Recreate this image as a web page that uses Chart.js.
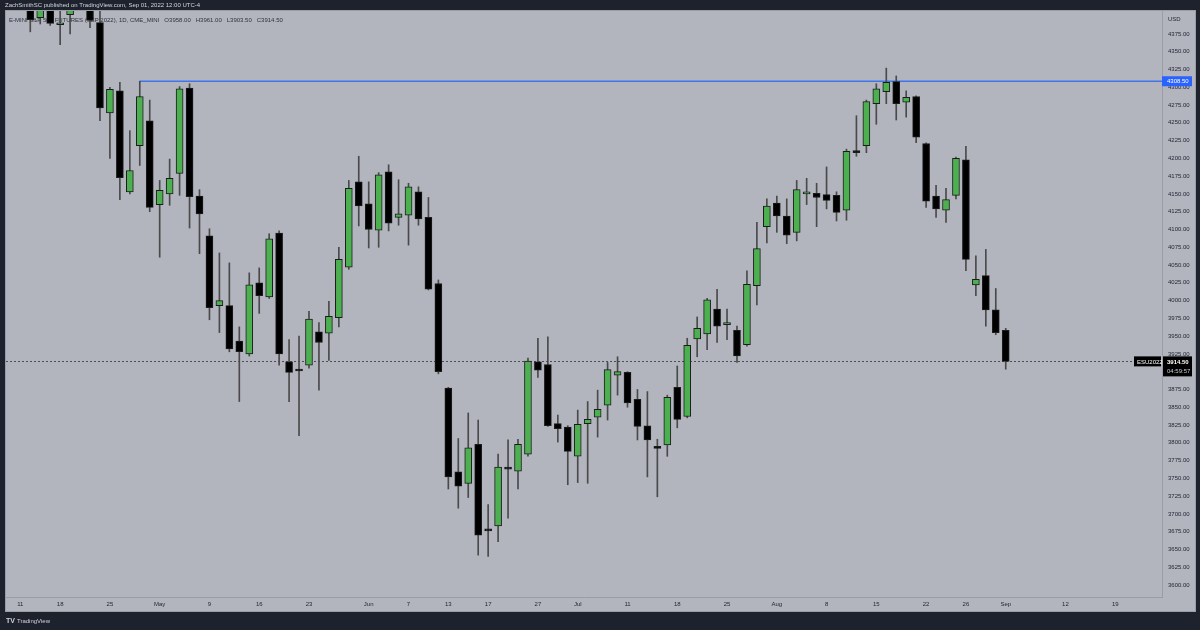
<!DOCTYPE html>
<html>
<head>
<meta charset="utf-8">
<script src="https://cdn.jsdelivr.net/npm/chart.js@4.4.1/dist/chart.umd.min.js"></script>
<style>
  html, body { margin: 0; padding: 0; background: #1e222d; }
  canvas { display: block; }
</style>
</head>
<body>
<canvas id="chart" width="1200" height="630"></canvas>
<script>
// ===== ESU2022 daily candles =====
const days = [
  'Apr 11','Apr 12','Apr 13','Apr 14',
  'Apr 18','Apr 19','Apr 20','Apr 21','Apr 22',
  'Apr 25','Apr 26','Apr 27','Apr 28','Apr 29',
  'May 2','May 3','May 4','May 5','May 6',
  'May 9','May 10','May 11','May 12','May 13',
  'May 16','May 17','May 18','May 19','May 20',
  'May 23','May 24','May 25','May 26','May 27',
  'May 31','Jun 1','Jun 2','Jun 3',
  'Jun 6','Jun 7','Jun 8','Jun 9','Jun 10',
  'Jun 13','Jun 14','Jun 15','Jun 16','Jun 17',
  'Jun 21','Jun 22','Jun 23','Jun 24',
  'Jun 27','Jun 28','Jun 29','Jun 30','Jul 1',
  'Jul 5','Jul 6','Jul 7','Jul 8',
  'Jul 11','Jul 12','Jul 13','Jul 14','Jul 15',
  'Jul 18','Jul 19','Jul 20','Jul 21','Jul 22',
  'Jul 25','Jul 26','Jul 27','Jul 28','Jul 29',
  'Aug 1','Aug 2','Aug 3','Aug 4','Aug 5',
  'Aug 8','Aug 9','Aug 10','Aug 11','Aug 12',
  'Aug 15','Aug 16','Aug 17','Aug 18','Aug 19',
  'Aug 22','Aug 23','Aug 24','Aug 25','Aug 26',
  'Aug 29','Aug 30','Aug 31','Sep 1',
  // empty future space on the right
  'Sep 2','Sep 6','Sep 7','Sep 8','Sep 9',
  'Sep 12','Sep 13','Sep 14','Sep 15','Sep 16',
  'Sep 19','Sep 20'
];

const open = [
  4480, 4420, 4398, 4440, 4388, 4402, 4458, 4460, 4391,
  4264, 4295, 4153, 4218, 4253,
  4135, 4150, 4179, 4299, 4147,
  4091, 3993, 3993, 3943, 3925,
  4025, 4005, 4095, 3914, 3903,
  3909, 3956, 3954, 3976, 4047,
  4167, 4136, 4099, 4181,
  4117, 4120, 4153, 4117, 4024,
  3877, 3759, 3743, 3798, 3679,
  3683, 3765, 3760, 3784,
  3914, 3910, 3827, 3822, 3781,
  3827, 3836, 3853, 3895,
  3899, 3861, 3824, 3795, 3797,
  3878, 3837, 3946, 3953, 3988,
  3966, 3958, 3938, 4021, 4104,
  4137, 4119, 4096, 4150, 4151,
  4149, 4148, 4127, 4210, 4218,
  4277, 4294, 4308, 4279, 4287,
  4221, 4147, 4127, 4148, 4198,
  4022, 4035, 3987, 3958
];
const high = [
  4488, 4470, 4452, 4460, 4420, 4465, 4490, 4500, 4410,
  4300, 4307, 4239, 4308.5, 4282,
  4169, 4199, 4301, 4305, 4156,
  4101, 4067, 4053, 3963, 4039,
  4046, 4094, 4098, 3945, 3950,
  3985, 3969, 3999, 4075, 4169,
  4203, 4167, 4180, 4191,
  4170, 4165, 4160, 4145, 4029,
  3878, 3806, 3842, 3832, 3713,
  3784, 3804, 3805, 3919,
  3947, 3949, 3839, 3824, 3846,
  3858, 3874, 3913, 3921,
  3900, 3875, 3872, 3805, 3867,
  3908, 3947, 3977, 4003, 4016,
  3988, 3964, 4042, 4110, 4143,
  4147, 4143, 4169, 4172, 4165,
  4188, 4153, 4213, 4260, 4282,
  4305, 4327, 4316, 4295, 4288,
  4222, 4162, 4158, 4202, 4217,
  4063, 4072, 4017, 3961
];
const low = [
  4410, 4378, 4389, 4387, 4360, 4375, 4440, 4384, 4253,
  4200, 4142, 4150, 4190, 4125,
  4061, 4134, 4148, 4102, 4066,
  3973, 3955, 3928, 3858, 3922,
  3982, 4003, 3909, 3858, 3810,
  3905, 3874, 3916, 3963, 4044,
  4105, 4074, 4075, 4098,
  4106, 4078, 4106, 4015, 3897,
  3735, 3708, 3723, 3642, 3640,
  3661, 3694, 3735, 3781,
  3892, 3823, 3801, 3741, 3744,
  3743, 3808, 3832, 3867,
  3850, 3804, 3752, 3724, 3781,
  3821, 3835, 3921, 3931, 3941,
  3945, 3913, 3936, 3994, 4081,
  4096, 4080, 4084, 4135, 4104,
  4129, 4112, 4113, 4203, 4208,
  4248, 4277, 4254, 4258, 4222,
  4131, 4117, 4110, 4143, 4042,
  4007, 3964, 3952, 3903.5
];
const close = [
  4413, 4395, 4440, 4390, 4390, 4458, 4455, 4394, 4271,
  4297, 4173, 4183, 4287, 4131,
  4155, 4172, 4298, 4146, 4122,
  3990, 4000, 3932, 3928, 4022,
  4007, 4087, 3925, 3899, 3901,
  3974, 3941, 3978, 4058, 4158,
  4133, 4100, 4177, 4109,
  4122, 4160, 4115, 4016, 3900,
  3752, 3739, 3793, 3670, 3676,
  3766, 3763, 3798, 3915,
  3902, 3824, 3820, 3788, 3826,
  3833, 3847, 3903, 3900,
  3856, 3823, 3804, 3792, 3864,
  3833, 3937, 3961, 4001, 3964,
  3969, 3922, 4023, 4073, 4133,
  4119, 4092, 4156, 4152, 4145,
  4141, 4124, 4210, 4208, 4280,
  4298, 4307, 4277, 4286, 4230,
  4140, 4129, 4142, 4200, 4058,
  4030, 3987, 3955, 3914.5
];

// time axis labels and where they sit
const tickDays = ['Apr 11','Apr 18','Apr 25','May 2','May 9','May 16','May 23','Jun 1','Jun 7','Jun 13','Jun 17','Jun 27',
                  'Jul 1','Jul 11','Jul 18','Jul 25','Aug 1','Aug 8','Aug 15','Aug 22','Aug 26','Sep 1','Sep 12','Sep 19'];
const tickText = ['11','18','25','May','9','16','23','Jun','7','13','17','27',
                  'Jul','11','18','25','Aug','8','15','22','26','Sep','12','19'];

// price axis labels
const priceTicks = [3600,3625,3650,3675,3700,3725,3750,3775,3800,3825,3850,3875,3900,3925,3950,3975,
                    4000,4025,4050,4075,4100,4125,4150,4175,4200,4225,4250,4275,4300,4325,4350,4375];

// horizontal level drawn by the author
const levelPrice = 4308.5;
const levelFrom = 'Apr 28';
const lastPrice = 3914.5;

// ===== colors / fonts =====
const FRAME = '#1e222d';
const PANEL = '#b2b5be';
const UP = '#4caf50';
const DOWN = '#000000';
const WICK = '#4a4a4a';
const AXIS_TXT = '#1f2330';
const FONT = '"Liberation Sans", Arial, sans-serif';

const wickData = high.map((h, i) => ({ x: i, y: [low[i], h] }));
const bodyData = open.map((o, i) => ({ x: i, y: [o, close[i]] }));

const tvDecor = {
    id: 'tvDecor',
    beforeDraw(chart) {
        const c = chart.ctx;
        c.save();
        c.fillStyle = FRAME;
        c.fillRect(0, 0, chart.width, chart.height);
        c.fillStyle = PANEL;
        c.fillRect(5, 10, 1191, 602);
        c.strokeStyle = '#9a9da6';
        c.lineWidth = 1;
        c.strokeRect(5.5, 10.5, 1190, 601);
        // published header
        c.fillStyle = '#d1d4dc';
        c.font = '6px ' + FONT;
        c.textBaseline = 'middle';
        c.fillText('ZachSmithSC published on TradingView.com, Sep 01, 2022 12:00 UTC-4', 5, 5.5);
        // footer logo
        c.font = 'bold 7px ' + FONT;
        c.fillText('TV', 6, 621);
        c.font = '6px ' + FONT;
        c.fillText('TradingView', 17, 621);
        c.restore();
    },
    beforeDatasetsDraw(chart) {
        const c = chart.ctx, a = chart.chartArea;
        const x = chart.scales.x, y = chart.scales.y;
        c.save();
        // symbol legend
        c.fillStyle = '#2e323d';
        c.font = '6px ' + FONT;
        c.textBaseline = 'middle';
        c.fillText('E-MINI S&P 500 FUTURES (SEP 2022), 1D, CME_MINI   O3958.00   H3961.00   L3903.50   C3914.50', 9, 20);
        // last price dotted line
        const py = Math.round(y.getPixelForValue(lastPrice)) + 0.5;
        c.strokeStyle = '#4a4d56';
        c.setLineDash([2, 2]);
        c.beginPath();
        c.moveTo(a.left, py);
        c.lineTo(1134, py);
        c.stroke();
        c.setLineDash([]);
        // horizontal level
        const ly = y.getPixelForValue(levelPrice);
        c.strokeStyle = '#3f74ec';
        c.lineWidth = 1.5;
        c.beginPath();
        c.moveTo(x.getPixelForValue(days.indexOf(levelFrom)), ly);
        c.lineTo(a.right, ly);
        c.stroke();
        c.restore();
    },
    afterDraw(chart) {
        const c = chart.ctx, a = chart.chartArea;
        const y = chart.scales.y;
        c.save();
        c.textBaseline = 'middle';
        // USD
        c.fillStyle = AXIS_TXT;
        c.font = '6px ' + FONT;
        c.fillText('USD', 1168, 19);
        // level label
        const ly = y.getPixelForValue(levelPrice);
        c.fillStyle = '#2962ff';
        c.fillRect(a.right, ly - 5, 30, 10);
        c.fillStyle = '#ffffff';
        c.fillText(levelPrice.toFixed(2), a.right + 5, ly + 0.5);
        // last price labels
        const py = y.getPixelForValue(lastPrice);
        c.fillStyle = '#000000';
        c.fillRect(1134, py - 5, 27, 10);
        c.fillRect(a.right + 1, py - 5, 29, 20);
        c.fillStyle = '#ffffff';
        c.fillText('ESU2022', 1137, py + 0.5);
        c.font = 'bold 6px ' + FONT;
        c.fillText(lastPrice.toFixed(2), a.right + 5, py + 0.5);
        c.font = '6px ' + FONT;
        c.fillStyle = '#c8cbd2';
        c.fillText('04:59:57', a.right + 5, py + 9.5);
        c.restore();
    }
};

new Chart(document.getElementById('chart').getContext('2d'), {
    type: 'bar',
    data: {
        datasets: [
            {
                label: 'wick',
                data: wickData,
                backgroundColor: WICK,
                barThickness: 1,
                grouped: false,
                order: 2
            },
            {
                label: 'body',
                data: bodyData,
                backgroundColor: ctx => close[ctx.dataIndex] >= open[ctx.dataIndex] ? UP : DOWN,
                borderColor: '#1c1c1c',
                borderWidth: 1,
                borderSkipped: false,
                barThickness: 7,
                minBarLength: 2,
                grouped: false,
                order: 1
            }
        ]
    },
    options: {
        responsive: false,
        animation: false,
        devicePixelRatio: 1,
        layout: { padding: { left: 6, top: 11, right: 4, bottom: 18 } },
        scales: {
            x: {
                type: 'linear',
                offset: false,
                min: -1.44,
                max: 114.7,
                grid: { display: false, drawTicks: false },
                border: { color: '#9a9da6' },
                afterFit: s => { s.height = 15; },
                afterBuildTicks: s => { s.ticks = tickDays.map(d => ({ value: days.indexOf(d) })); },
                ticks: {
                    autoSkip: false,
                    maxRotation: 0,
                    padding: 4,
                    color: AXIS_TXT,
                    font: { size: 6, family: FONT },
                    callback: (v, i) => tickText[i]
                }
            },
            y: {
                position: 'right',
                min: 3583.1,
                max: 4407.3,
                grid: { display: false, drawTicks: false },
                border: { color: '#9a9da6' },
                afterFit: s => { s.width = 34; },
                afterBuildTicks: s => { s.ticks = priceTicks.map(v => ({ value: v })); },
                ticks: {
                    padding: 6,
                    color: AXIS_TXT,
                    font: { size: 6, family: FONT },
                    callback: v => Number(v).toFixed(2)
                }
            }
        },
        plugins: {
            legend: { display: false },
            tooltip: { enabled: false }
        }
    },
    plugins: [tvDecor]
});
</script>
</body>
</html>
